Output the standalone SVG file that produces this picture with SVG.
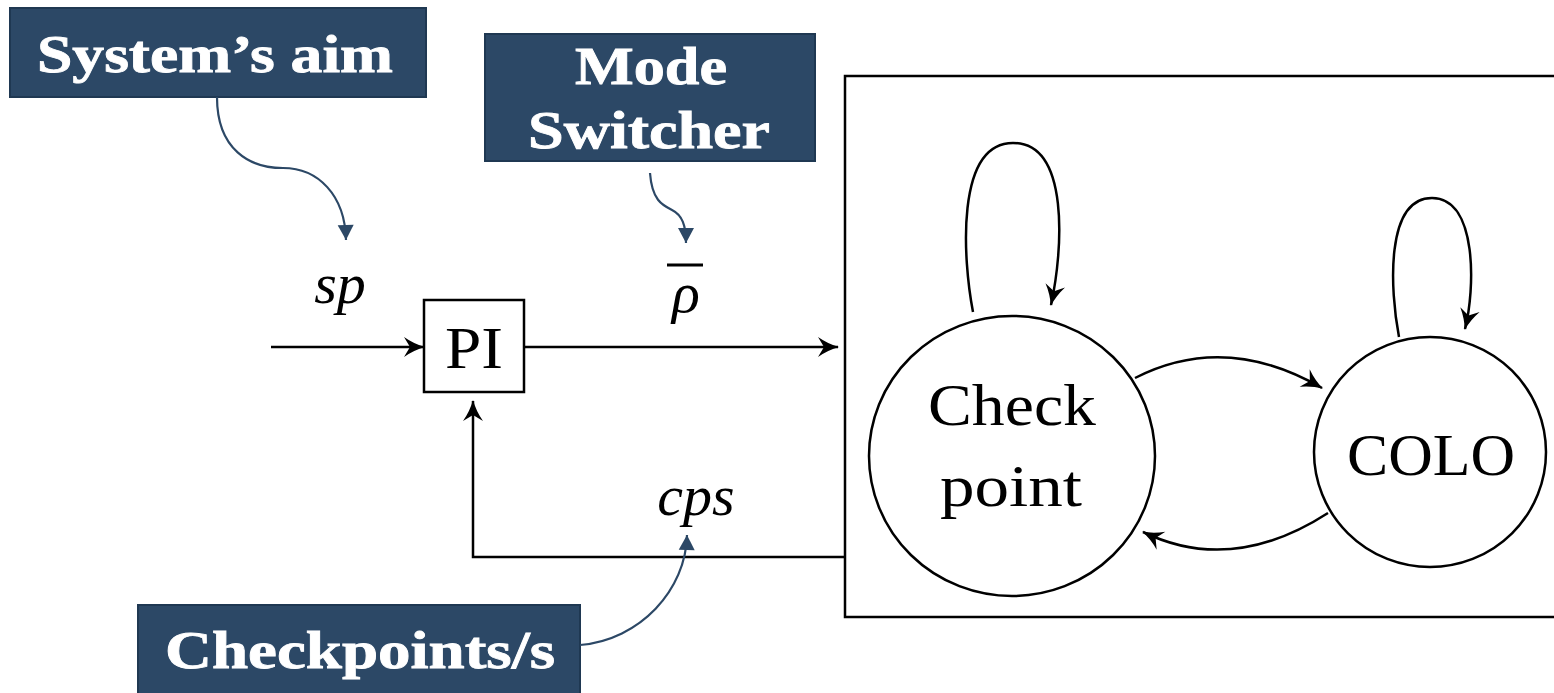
<svg xmlns="http://www.w3.org/2000/svg" width="1554" height="693" viewBox="0 0 1554 693">
  <style>
    .tag { fill: #2c4866; stroke: #1f3852; stroke-width: 2; }
    .tagtxt { font-family: "Liberation Serif", "Times New Roman", serif; font-weight: bold; font-size: 52px; fill: #ffffff; stroke: #ffffff; stroke-width: 0.8; text-anchor: middle; }
    .lbl { font-family: "Liberation Serif", "Times New Roman", serif; font-size: 60px; fill: #000; text-anchor: middle; }
    .math { font-family: "Liberation Serif", "Times New Roman", serif; font-style: italic; font-size: 58px; fill: #000; text-anchor: middle; }
    .box { fill: #fff; stroke: #000; stroke-width: 2.5; }
    .wire { fill: none; stroke: #000; stroke-width: 2.5; }
    .note { fill: none; stroke: #2c4866; stroke-width: 2.2; }
  </style>
  <defs>
    <marker id="stealth" viewBox="-22 -11 24 22" refX="0" refY="0" markerWidth="24" markerHeight="22" markerUnits="userSpaceOnUse" orient="auto">
      <path d="M1,0 Q-10,-3 -20,-10 L-14,0 L-20,10 Q-10,3 1,0 Z" fill="#000"/>
    </marker>
    <marker id="tri" viewBox="-17 -9 18 18" refX="0" refY="0" markerWidth="18" markerHeight="18" markerUnits="userSpaceOnUse" orient="auto">
      <path d="M0,0 L-15,-8 L-15,8 Z" fill="#2c4866"/>
    </marker>
  </defs>

  <!-- outer frame of the mode automaton -->
  <g id="automaton-frame">
    <rect x="845" y="76" width="730" height="541" class="box" fill="none"/>
  </g>

  <!-- controller -->
  <g id="pi">
    <rect x="424" y="300" width="100" height="92" class="box"/>
    <text x="474" y="368" class="lbl" textLength="58" lengthAdjust="spacingAndGlyphs">PI</text>
  </g>

  <!-- states -->
  <g id="checkpoint">
    <ellipse cx="1012" cy="456" rx="143" ry="140" class="box"/>
    <text x="1012" y="425" class="lbl" textLength="168" lengthAdjust="spacingAndGlyphs">Check</text>
    <text x="1011" y="506" class="lbl" textLength="142" lengthAdjust="spacingAndGlyphs">point</text>
  </g>
  <g id="colo">
    <ellipse cx="1430" cy="452" rx="116" ry="115" class="box"/>
    <text x="1431" y="475" class="lbl" textLength="168" lengthAdjust="spacingAndGlyphs">COLO</text>
  </g>

  <!-- annotation tags -->
  <g id="aim">
    <rect x="10" y="8" width="416" height="89" class="tag"/>
    <text x="215" y="72" class="tagtxt" textLength="356" lengthAdjust="spacingAndGlyphs">System’s aim</text>
  </g>
  <g id="switcher">
    <rect x="485" y="34" width="330" height="127" class="tag"/>
    <text x="651" y="84" class="tagtxt" textLength="152" lengthAdjust="spacingAndGlyphs">Mode</text>
    <text x="649" y="148" class="tagtxt" textLength="242" lengthAdjust="spacingAndGlyphs">Switcher</text>
  </g>
  <g id="cps-tag">
    <rect x="138" y="605" width="442" height="100" class="tag"/>
    <text x="360" y="668" class="tagtxt" textLength="390" lengthAdjust="spacingAndGlyphs">Checkpoints/s</text>
  </g>

  <!-- signal labels -->
  <g id="signals">
    <text x="340" y="303" class="math">sp</text>
    <text x="686" y="312" class="math">ρ</text>
    <line x1="667" y1="265" x2="703" y2="265" stroke="#000" stroke-width="3"/>
    <text x="696" y="515" class="math">cps</text>
  </g>

  <!-- connectors -->
  <g id="connectors">
    <path d="M271,347 H424" class="wire" marker-end="url(#stealth)"/>
    <path d="M524,347 H838" class="wire" marker-end="url(#stealth)"/>
    <path d="M846,557 H473 V401" class="wire" marker-end="url(#stealth)"/>
    <path d="M973,312 C963,260 955,143 1013,143 C1070,143 1063,250 1051,305" class="wire" marker-end="url(#stealth)"/>
    <path d="M1399,337 C1390,290 1385,198 1432,198 C1478,198 1475,290 1465,329" class="wire" marker-end="url(#stealth)"/>
    <path d="M1135,378 Q1225,332 1322,388" class="wire" marker-end="url(#stealth)"/>
    <path d="M1328,513 Q1232,575 1143,532" class="wire" marker-end="url(#stealth)"/>
    <path d="M217,97 C217,150 250,168 283,168 C318,168 345,195 346,240" class="note" marker-end="url(#tri)"/>
    <path d="M650,173 C652,200 662,205 672,210 C682,215 686,225 686,243" class="note" marker-end="url(#tri)"/>
    <path d="M580,645 C640,640 686,590 687,535" class="note" marker-end="url(#tri)"/>
  </g>
</svg>
